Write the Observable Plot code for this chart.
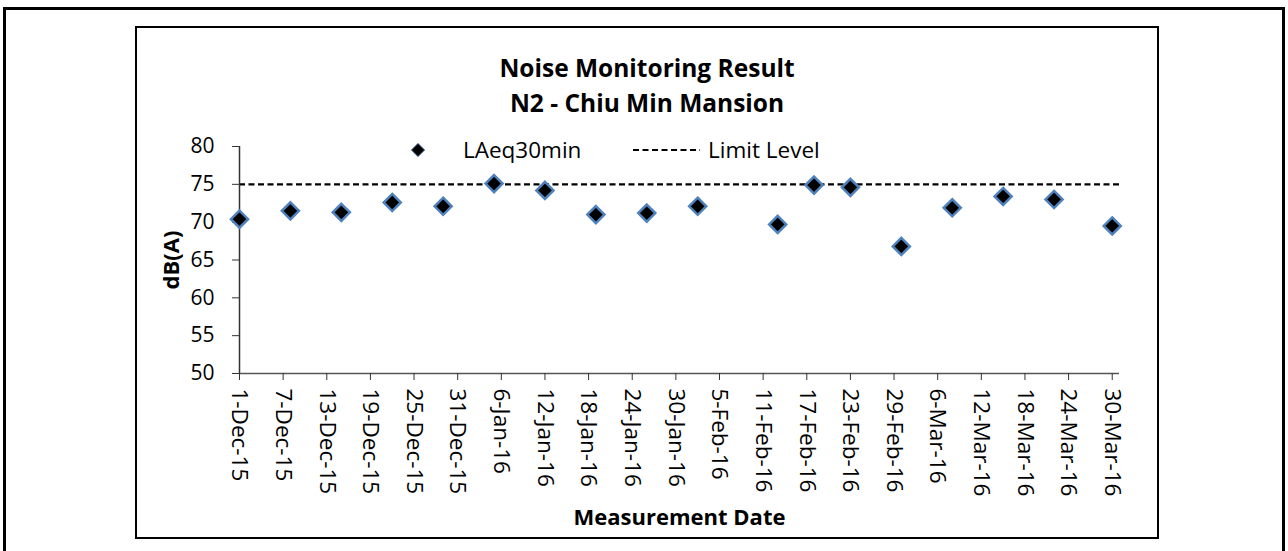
<!DOCTYPE html>
<html>
<head>
<meta charset="utf-8">
<script src="https://cdn.jsdelivr.net/npm/d3@7"></script>
<script src="https://cdn.jsdelivr.net/npm/@observablehq/plot@0.6"></script>
<style>
html, body { margin: 0; padding: 0; background: #fff; }
body { width: 1288px; height: 551px; position: relative; overflow: hidden; font-family: "Open Sans", sans-serif; color: #000; }
#outer { position: absolute; left: 3px; top: 7px; width: 1276px; height: 600px; border: 3px solid #000; }
#inner { position: absolute; left: 135px; top: 26px; width: 1020px; height: 509px; border: 2px solid #000; }
#chart { position: absolute; left: 0; top: 0; }
.title { position: absolute; left: 137px; width: 1020px; text-align: center; font-weight: bold; font-size: 24.5px; line-height: 34px; white-space: nowrap; }
.leg { position: absolute; font-size: 22.5px; line-height: 30px; white-space: nowrap; }
.legsym { position: absolute; }
#chart [aria-label="x-axis label"], #chart [aria-label="y-axis label"] { font-weight: bold; font-size: 22px; }
#chart [aria-label="x-axis tick label"] { font-size: 22.5px; }
#chart [aria-label="y-axis tick label"] { font-size: 21px; }
</style>
</head>
<body>
<div id="outer"></div>
<div id="inner"></div>
<div id="chart"></div>
<div class="title" id="t1" style="top:51px"></div>
<div class="title" id="t2" style="top:86px"></div>
<svg class="legsym" style="left:410px;top:142px" width="16" height="16"><path d="M8,1.5L14.5,8L8,14.5L1.5,8Z" fill="#000" stroke="#2a4a7a" stroke-width="1"/></svg>
<div class="leg" id="l1" style="left:463px;top:135px"></div>
<svg class="legsym" style="left:633px;top:148px" width="70" height="4"><line x1="0" y1="2" x2="67" y2="2" stroke="#000" stroke-width="2.2" stroke-dasharray="6,3.5"/></svg>
<div class="leg" id="l2" style="left:708px;top:135px"></div>
<script>
// ---- chart texts ----
const titleLines = ["Noise Monitoring Result", "N2 - Chiu Min Mansion"];
const seriesNames = ["LAeq30min", "Limit Level"];
const yLabel = "dB(A)";
const xLabel = "Measurement Date";

// ---- data ----
const measurementDates = [
  "2015-12-01", "2015-12-08", "2015-12-15", "2015-12-22", "2015-12-29",
  "2016-01-05", "2016-01-12", "2016-01-19", "2016-01-26", "2016-02-02",
  "2016-02-13", "2016-02-18", "2016-02-23", "2016-03-01", "2016-03-08",
  "2016-03-15", "2016-03-22", "2016-03-30"
];
const laeq30min = [
  70.4, 71.5, 71.3, 72.6, 72.1,
  75.1, 74.2, 71.0, 71.2, 72.1,
  69.7, 74.9, 74.6, 66.8, 71.9,
  73.4, 73.0, 69.5
];
const limitLevel = [75];

// ---- axes ----
const xDomain = ["2015-12-01", "2016-03-31"];
const xTickDates = [
  "2015-12-01", "2015-12-07", "2015-12-13", "2015-12-19", "2015-12-25", "2015-12-31",
  "2016-01-06", "2016-01-12", "2016-01-18", "2016-01-24", "2016-01-30",
  "2016-02-05", "2016-02-11", "2016-02-17", "2016-02-23", "2016-02-29",
  "2016-03-06", "2016-03-12", "2016-03-18", "2016-03-24", "2016-03-30"
];
const yDomain = [50, 80];
const yTicks = [50, 55, 60, 65, 70, 75, 80];

const toDate = s => new Date(s + "T00:00:00Z");
const data = measurementDates.map((d, i) => ({date: toDate(d), value: laeq30min[i]}));
const xd = xDomain.map(toDate);

document.getElementById("t1").textContent = titleLines[0];
document.getElementById("t2").textContent = titleLines[1];
document.getElementById("l1").textContent = seriesNames[0];
document.getElementById("l2").textContent = seriesNames[1];

const chart = Plot.plot({
  width: 1288,
  height: 551,
  marginLeft: 239,
  marginRight: 169,
  marginTop: 146,
  marginBottom: 178,
  style: {fontFamily: '"Open Sans", sans-serif', fontSize: "21px", color: "#000", background: "transparent", overflow: "visible"},
  x: {type: "utc", domain: xd},
  y: {domain: yDomain},
  marks: [
    Plot.ruleY(limitLevel, {stroke: "#000", strokeWidth: 2.2, strokeDasharray: "6,3.5"}),
    Plot.ruleY([yDomain[0]], {stroke: "#555", strokeWidth: 1.5}),
    Plot.ruleX([xd[0]], {stroke: "#333", strokeWidth: 1.5}),
    Plot.axisY({ticks: yTicks, tickSize: 7, tickPadding: 18, stroke: "#333", label: yLabel, labelArrow: false, labelAnchor: "center", labelOffset: 76}),
    Plot.axisX({ticks: xTickDates.map(toDate), tickFormat: d3.utcFormat("%-d-%b-%y"), tickRotate: 90, tickSize: 7, tickPadding: 8, stroke: "#333", label: xLabel, labelArrow: false, labelAnchor: "center", labelOffset: 151}),
    Plot.dot(data, {x: "date", y: "value", symbol: "diamond2", r: 7.7, fill: "#000", stroke: "#4f81bd", strokeWidth: 2.5})
  ]
});
document.getElementById("chart").appendChild(chart);
</script>
</body>
</html>
